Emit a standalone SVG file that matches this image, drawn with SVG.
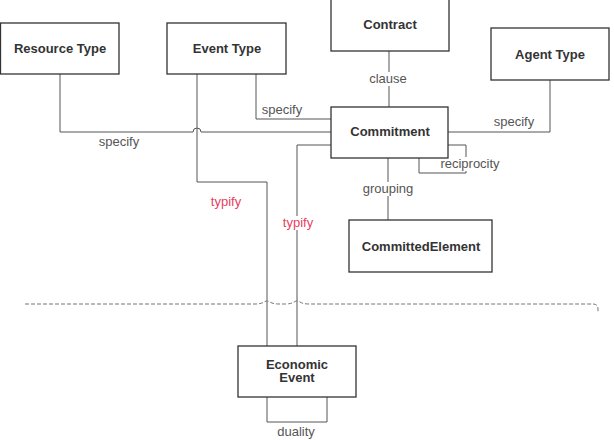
<svg xmlns="http://www.w3.org/2000/svg" width="614" height="440" viewBox="0 0 614 440">
<style>
.box{fill:#fff;stroke:#333;stroke-width:1.3}
.nt{font-family:"Liberation Sans",Arial,sans-serif;font-size:13px;font-weight:bold;fill:#333;text-anchor:middle}
.ln{fill:none;stroke:#555;stroke-width:1}
.lb{font-family:"Liberation Sans",Arial,sans-serif;font-size:13px;fill:#555;text-anchor:middle}
.red{fill:#e8405f}
.bg{fill:#fff}
.dash{fill:none;stroke:#777;stroke-width:1;stroke-dasharray:4 2}
</style>
<rect width="614" height="440" fill="#fff"/>
<g id="connectors">
<path class="ln" d="M60,74 V132 H193 A4,4 0 0 1 201,132 H331"/>
<path class="ln" d="M256,74 V119 H331"/>
<path class="ln" d="M389,51 V107"/>
<path class="ln" d="M550,80 V132 H448"/>
<path class="ln" d="M448,145 H466 V173 H419 V158"/>
<path class="ln" d="M388,158 V220"/>
<path class="ln" d="M197,74 V182 H267 V346"/>
<path class="ln" d="M297,346 V145 H331"/>
<path class="ln" d="M267,397 V422 H327 V397"/>
<path class="dash" d="M25,304 H255 Q261,304 264,302 Q267,300 270,302 Q273,304 279,304 H285 Q291,304 294,302 Q297,300 300,302 Q303,304 309,304 H593 Q598,304 598,309 V313"/>
<rect class="bg" x="98" y="135" width="42" height="14"/>
<text class="lb" x="119" y="146">specify</text>
<rect class="bg" x="261" y="103" width="42" height="14"/>
<text class="lb" x="282" y="114">specify</text>
<rect class="bg" x="369" y="72" width="38" height="14"/>
<text class="lb" x="388" y="83">clause</text>
<rect class="bg" x="493" y="115" width="42" height="14"/>
<text class="lb" x="514" y="126">specify</text>
<rect class="bg" x="441" y="157" width="59" height="14"/>
<text class="lb" x="470" y="168">reciprocity</text>
<rect class="bg" x="362" y="182" width="52" height="14"/>
<text class="lb" x="388" y="193">grouping</text>
<text class="lb red" x="226" y="206">typify</text>
<rect class="bg" x="281" y="216" width="34" height="14"/>
<text class="lb red" x="298" y="227">typify</text>
<text class="lb" x="296" y="436">duality</text>
</g>
<g id="resource-type"><rect class="box" x="0.5" y="23" width="118.5" height="51"/><text class="nt" x="60" y="53">Resource Type</text></g>
<g id="event-type"><rect class="box" x="167" y="23" width="119" height="51"/><text class="nt" x="227" y="53">Event Type</text></g>
<g id="contract"><rect class="box" x="331" y="-2" width="118" height="53"/><text class="nt" x="390" y="29">Contract</text></g>
<g id="agent-type"><rect class="box" x="491" y="28" width="118" height="52"/><text class="nt" x="550" y="59">Agent Type</text></g>
<g id="commitment"><rect class="box" x="331" y="107" width="117" height="51"/><text class="nt" x="390" y="135.5">Commitment</text></g>
<g id="committed-element"><rect class="box" x="349" y="220" width="143" height="52"/><text class="nt" x="421" y="250.5">CommittedElement</text></g>
<g id="economic-event"><rect class="box" x="238" y="346" width="118" height="51"/><text class="nt" x="297" y="368.5">Economic</text><text class="nt" x="297" y="382">Event</text></g>
</svg>
